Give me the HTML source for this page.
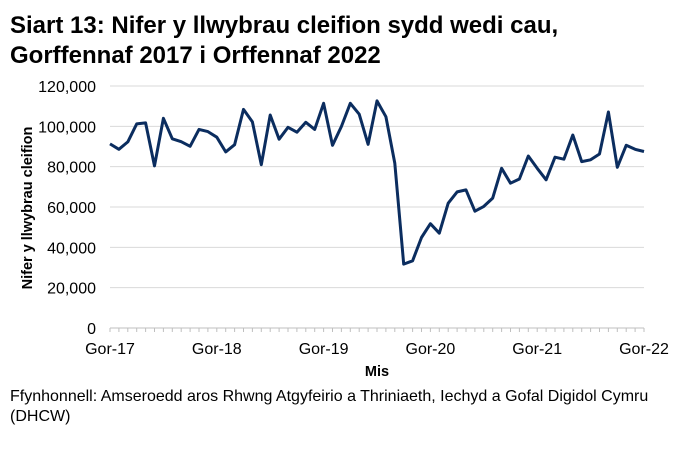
<!DOCTYPE html>
<html><head><meta charset="utf-8"><style>
body{margin:0;background:#fff;width:683px;height:446px;overflow:hidden;font-family:"Liberation Sans",Arial,sans-serif}
</style></head><body>
<svg id="chart" width="683" height="446" xmlns="http://www.w3.org/2000/svg" font-family="Liberation Sans, Arial, sans-serif">
<text x="10" y="33" font-size="24" font-weight="bold" fill="#000">Siart 13: Nifer y llwybrau cleifion sydd wedi cau,</text>
<text x="10" y="63" font-size="24" font-weight="bold" fill="#000">Gorffennaf 2017 i Orffennaf 2022</text>
<g id="grid"></g><g id="yticks"></g><g id="xticks"></g>
<path id="line" fill="none" stroke="#0b2d5f" stroke-width="3" stroke-linejoin="round"/>
<text transform="translate(32,208) rotate(-90)" text-anchor="middle" font-size="14.5" font-weight="bold">Nifer y llwybrau cleifion</text>
<text x="377" y="376" text-anchor="middle" font-size="14.5" font-weight="bold">Mis</text>
<text x="10" y="401" font-size="16">Ffynhonnell: Amseroedd aros Rhwng Atgyfeirio a Thriniaeth, Iechyd a Gofal Digidol Cymru</text>
<text x="10" y="421" font-size="16">(DHCW)</text>
</svg>
<script>
const values=[91300,88600,92300,101200,101700,80400,104000,93800,92400,90100,98500,97400,94600,87300,90900,108400,102200,81000,105600,93600,99500,97100,102000,98500,111400,90600,99900,111400,106000,91100,112600,104800,81700,31700,33300,44900,51700,47000,61900,67500,68500,57900,60300,64400,79200,71800,73900,85300,79200,73500,84700,83700,95700,82500,83400,86300,107100,79700,90600,88600,87500];
const yTicks=[0,20000,40000,60000,80000,100000,120000];
const xLabels=["Gor-17","Gor-18","Gor-19","Gor-20","Gor-21","Gor-22"];
const NS="http://www.w3.org/2000/svg";
const x0=110,x1=644,y0=328,y1=86;
const xs=i=>x0+(x1-x0)*i/(values.length-1);
const ys=v=>y0-(y0-y1)*v/120000;
const grid=document.getElementById('grid'),yt=document.getElementById('yticks'),xt=document.getElementById('xticks');
yTicks.forEach(v=>{
 const l=document.createElementNS(NS,'line');
 
 
 l.setAttribute('x1',x0);l.setAttribute('x2',x1);l.setAttribute('y1',ys(v));l.setAttribute('y2',ys(v));
 l.setAttribute('stroke',v===0?'#bfbfbf':'#d9d9d9');l.setAttribute('stroke-width','1');
 grid.appendChild(l);
 const t=document.createElementNS(NS,'text');
 
 
 t.setAttribute('x',96);t.setAttribute('y',ys(v)+6);t.setAttribute('text-anchor','end');t.setAttribute('font-size','16');
 t.textContent=v.toLocaleString('en-US');yt.appendChild(t);
});
for(let i=0;i<values.length;i++){
 const l=document.createElementNS(NS,'line');
 
 
 l.setAttribute('x1',xs(i));l.setAttribute('x2',xs(i));l.setAttribute('y1',y0);l.setAttribute('y2',y0+4);
 l.setAttribute('stroke','#bfbfbf');xt.appendChild(l);
}
xLabels.forEach((s,k)=>{
 const t=document.createElementNS(NS,'text');
 
 
 t.setAttribute('x',xs(k*12));t.setAttribute('y',354);t.setAttribute('text-anchor','middle');t.setAttribute('font-size','16');
 t.textContent=s;xt.appendChild(t);
});
document.getElementById('line').setAttribute('d',values.map((v,i)=>(i?'L':'M')+xs(i).toFixed(1)+','+ys(v).toFixed(1)).join(''));
</script>
</body></html>
